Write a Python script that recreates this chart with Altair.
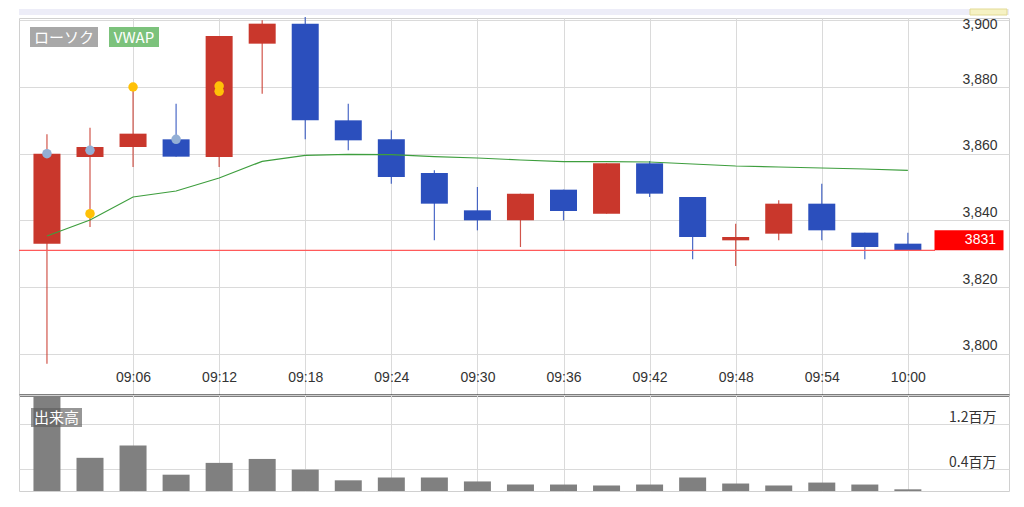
import altair as alt
import pandas as pd

# ---------------- data ----------------
times = ["09:00", "09:03", "09:06", "09:09", "09:12", "09:15", "09:18",
         "09:21", "09:24", "09:27", "09:30", "09:33", "09:36", "09:39",
         "09:42", "09:45", "09:48", "09:51", "09:54", "09:57", "10:00"]
opens = [3833, 3859, 3862, 3864.3, 3859, 3893, 3899, 3870, 3864.3, 3854.2, 3843,
         3840, 3849.2, 3842, 3857.1, 3847, 3834, 3836, 3845, 3836.3, 3833]
highs = [3865.8, 3867.8, 3880, 3875, 3895.3, 3900, 3901, 3875, 3867, 3855, 3850,
         3848, 3849.2, 3857.1, 3857.8, 3847, 3839, 3846, 3851, 3836.3, 3836.3]
lows = [3797, 3838, 3856, 3859.1, 3856, 3878, 3864.3, 3861, 3851, 3834, 3837,
        3832, 3840, 3842, 3847, 3828.3, 3826.3, 3834, 3834, 3828.3, 3831]
closes = [3860, 3862, 3866, 3859.1, 3895.3, 3899, 3870, 3864, 3853, 3845, 3840,
          3848, 3842.8, 3857.1, 3848, 3835, 3835, 3845, 3837, 3832, 3831]
vwap = [3835.3, 3840.1, 3847.0, 3848.8, 3852.7, 3857.7, 3859.5, 3859.8, 3859.7,
        3859.1, 3858.7, 3858.1, 3857.6, 3857.6, 3857.5, 3856.9, 3856.3, 3856.0,
        3855.7, 3855.4, 3855.0]
volumes = [1670000, 590000, 810000, 290000, 500000, 570000, 380000, 190000,
           240000, 240000, 170000, 115000, 115000, 98000, 115000, 240000,
           133000, 98000, 150000, 115000, 30000]

marker_times = ["09:00", "09:03", "09:09", "09:03", "09:06", "09:12", "09:12"]
marker_prices = [3860, 3861, 3864.3, 3842, 3880, 3880.3, 3878.7]
marker_colors = ["#93afd5", "#93afd5", "#93afd5", "#ffc107", "#ffc107", "#ffc107", "#ffc107"]

last_price = 3831
tick_labels = ["09:06", "09:12", "09:18", "09:24", "09:30", "09:36",
               "09:42", "09:48", "09:54", "10:00"]
price_ticks = [3800, 3820, 3840, 3860, 3880, 3900]
volume_ticks = [400000, 1200000]
legend_price = ["ローソク", "VWAP"]
legend_volume = "出来高"

# ---------------- helpers ----------------
def to_min(t):
    h, m = t.split(":")
    return (int(h) - 9) * 60 + int(m)

df = pd.DataFrame({
    "time": times, "t": [to_min(x) for x in times],
    "open": opens, "high": highs, "low": lows, "close": closes,
    "vwap": vwap, "volume": volumes,
})
df["dir"] = ["up" if c >= o else "down" for o, c in zip(opens, closes)]

mk = pd.DataFrame({"t": [to_min(x) for x in marker_times],
                   "price": marker_prices, "c": marker_colors})
lp = pd.DataFrame({"price": [last_price], "label": [str(last_price)]})
one = pd.DataFrame({"a": [0]})

tick_vals = [to_min(x) for x in tick_labels]
label_expr = " : ".join(f"datum.value == {v} ? '{s}'" for v, s in zip(tick_vals, tick_labels)) + " : ''"

W, H1, H2 = 990, 377, 96
FONT = "Liberation Sans"
JFONT = "Noto Sans CJK JP"
GRID = "#dadada"

xs = alt.Scale(domain=[-1.6, 66.7], nice=False, zero=False)
ys = alt.Scale(domain=[3787.6, 3900.7], nice=False, zero=False)
vs = alt.Scale(domain=[0, 1707000], nice=False, zero=False)
col = alt.Scale(domain=["up", "down"], range=["#c9372c", "#2b4fbd"])

x_price_axis = alt.Axis(values=tick_vals, labelExpr=label_expr, grid=True, gridColor=GRID,
                        ticks=False, domainColor="black", domainWidth=2, labelPadding=-18,
                        labelBaseline="middle", labelFontSize=14, labelColor="#333",
                        labelFont=FONT, title=None, labelFlush=False)
y_price_axis = alt.Axis(orient="right", values=price_ticks, format=",.0f", grid=True,
                        gridColor=GRID, ticks=False, domain=False, labelAlign="right",
                        labelPadding=-12, labelBaseline="bottom",
                        labelOffset={"condition": {"test": "datum.value == 3900", "value": 11},
                                     "value": -1},
                        labelFontSize=14, labelColor="#333", labelFont=FONT, title=None,
                        labelFlush=False)

base = alt.Chart(df)

band = alt.Chart(one).mark_rect(color="#ededf8", clip=False).encode(
    x=alt.value(0), x2=alt.value(W), y=alt.value(-9), y2=alt.value(-3))
handle = alt.Chart(one).mark_rect(color="#f6f2c4", stroke="#e2da95", clip=False).encode(
    x=alt.value(951), x2=alt.value(988), y=alt.value(-9), y2=alt.value(-3))

wick = base.mark_rule(strokeWidth=1.2, opacity=0.85).encode(
    x=alt.X("t:Q", scale=xs, axis=x_price_axis),
    y=alt.Y("low:Q", scale=ys, axis=y_price_axis),
    y2="high:Q",
    color=alt.Color("dir:N", scale=col, legend=None))
body = base.mark_bar(size=27).encode(
    x=alt.X("t:Q", scale=xs), y=alt.Y("open:Q", scale=ys), y2="close:Q",
    color=alt.Color("dir:N", scale=col, legend=None))
line = base.mark_line(color="#3e9e3e", strokeWidth=1.2).encode(
    x=alt.X("t:Q", scale=xs), y=alt.Y("vwap:Q", scale=ys))
redline = alt.Chart(lp).mark_rule(color="#ff5a5a", strokeWidth=1.2).encode(
    y=alt.Y("price:Q", scale=ys), x=alt.value(0), x2=alt.value(916))
dots = alt.Chart(mk).mark_circle(size=90, opacity=1).encode(
    x=alt.X("t:Q", scale=xs), y=alt.Y("price:Q", scale=ys),
    color=alt.Color("c:N", scale=None))
lp_box = alt.Chart(lp).mark_tick(color="#ff0000", thickness=20, size=69, orient="horizontal",
                                 opacity=1, yOffset=-10).encode(
    y=alt.Y("price:Q", scale=ys), x=alt.value(950))
lp_text = alt.Chart(lp).mark_text(color="white", align="right", baseline="middle",
                                  fontSize=14, font=FONT, dy=-10).encode(
    y=alt.Y("price:Q", scale=ys), x=alt.value(977), text="label:N")

leg_df = pd.DataFrame({"name": legend_price, "x0": [11, 90], "x1": [79, 140],
                       "c": ["#a8a8a8", "#7cc27c"]})
leg_df["xm"] = (leg_df["x0"] + leg_df["x1"]) / 2
leg_box = alt.Chart(leg_df).mark_rect().encode(
    x=alt.X("x0:Q", scale=None), x2="x1:Q", y=alt.value(9), y2=alt.value(29),
    color=alt.Color("c:N", scale=None))
leg_txt = alt.Chart(leg_df).mark_text(color="white", fontSize=15, font=JFONT,
                                      baseline="middle").encode(
    x=alt.X("xm:Q", scale=None), y=alt.value(19.5), text="name:N")

price = alt.layer(band, handle, wick, body, line, redline, dots, lp_box, lp_text,
                  leg_box, leg_txt).properties(width=W, height=H1)

x_vol_axis = alt.Axis(values=tick_vals, labels=False, ticks=False, domain=False, grid=True,
                      gridColor=GRID, title=None)
y_vol_axis = alt.Axis(orient="right", values=volume_ticks,
                      labelExpr="format(datum.value / 1000000, '.1f') + '百万'",
                      grid=True, gridColor=GRID, ticks=False, domain=False,
                      labelAlign="right", labelPadding=-13, labelBaseline="bottom",
                      labelOffset=1, labelFontSize=14, labelColor="#333",
                      labelFont=JFONT, title=None)
vbars = base.mark_bar(size=27, color="#808080").encode(
    x=alt.X("t:Q", scale=xs, axis=x_vol_axis),
    y=alt.Y("volume:Q", scale=vs, axis=y_vol_axis))
vleg = pd.DataFrame({"name": [legend_volume]})
vleg_box = alt.Chart(vleg).mark_rect(color="#5e5e5e", opacity=0.65).encode(
    x=alt.value(12), x2=alt.value(63), y=alt.value(13), y2=alt.value(32))
vleg_txt = alt.Chart(vleg).mark_text(color="white", fontSize=15, font=JFONT,
                                     baseline="middle").encode(
    x=alt.value(37.5), y=alt.value(22.5), text="name:N")
volume = alt.layer(vbars, vleg_box, vleg_txt).properties(width=W, height=H2)

chart = alt.vconcat(price, volume, spacing=0).properties(
    padding={"left": 9, "top": 0, "right": 0, "bottom": 0}, bounds="flush"
).configure_view(stroke="#d0d0d0").configure_concat(spacing=0)

chart.save("out.html", embed_options={"renderer": "svg", "actions": False})
